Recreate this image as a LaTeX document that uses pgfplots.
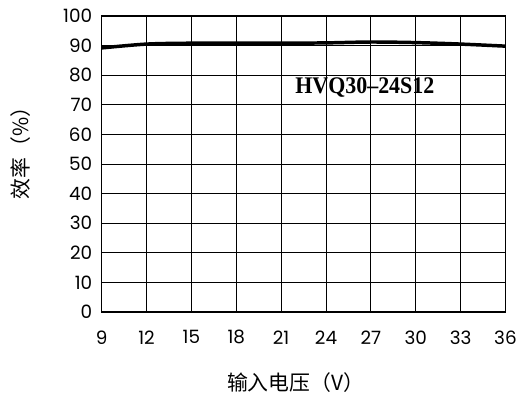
\documentclass[border=0pt]{standalone}
\usepackage{pgfplots}
\pgfplotsset{compat=1.18}
\usepackage{fontspec}
\setmainfont{Poppins}
\newfontfamily\cjk{Noto Sans CJK SC}
\newfontfamily\lab{Liberation Serif}
\begin{document}
\begin{tikzpicture}
\begin{axis}[
  scale only axis,
  width=405bp, height=297bp,
  xmin=9, xmax=36, ymin=0, ymax=100,
  xtick={9,12,...,36}, ytick={0,10,...,100},
  grid=major,
  major grid style={black, line width=0.8pt},
  axis line style={black, line width=1.3pt},
  tick style={draw=none},
  /pgf/number format/assume math mode=true,
  ticklabel style={font=\fontsize{18.5}{18.5}\selectfont},
  xticklabel style={yshift=-15bp},
  yticklabel style={xshift=-6bp},
  xlabel={\cjk 输入电压（V）},
  ylabel={\cjk 效率（\%）},
  xlabel style={font=\fontsize{21}{21}\selectfont, yshift=-22bp, xshift=-8bp},
  ylabel style={font=\fontsize{21}{21}\selectfont, yshift=26bp, xshift=16bp},
  clip=false,
]
\addplot[black, line width=3.5pt, smooth] coordinates {
 (9,89.2) (12,90.5) (15,90.8) (18,90.8) (21,90.8) (24,90.9) (27,91.2) (30,91.0) (33,90.5) (36,89.8)
};
\node[font=\lab\bfseries\fontsize{24}{24}\selectfont, xscale=0.92] at (axis cs:26.6,76) {HVQ30–24S12};
\path (rel axis cs:0,0) ++(-102bp,-92bp);
\path (rel axis cs:1,1) ++(13bp,16bp);
\end{axis}
\end{tikzpicture}
\end{document}
